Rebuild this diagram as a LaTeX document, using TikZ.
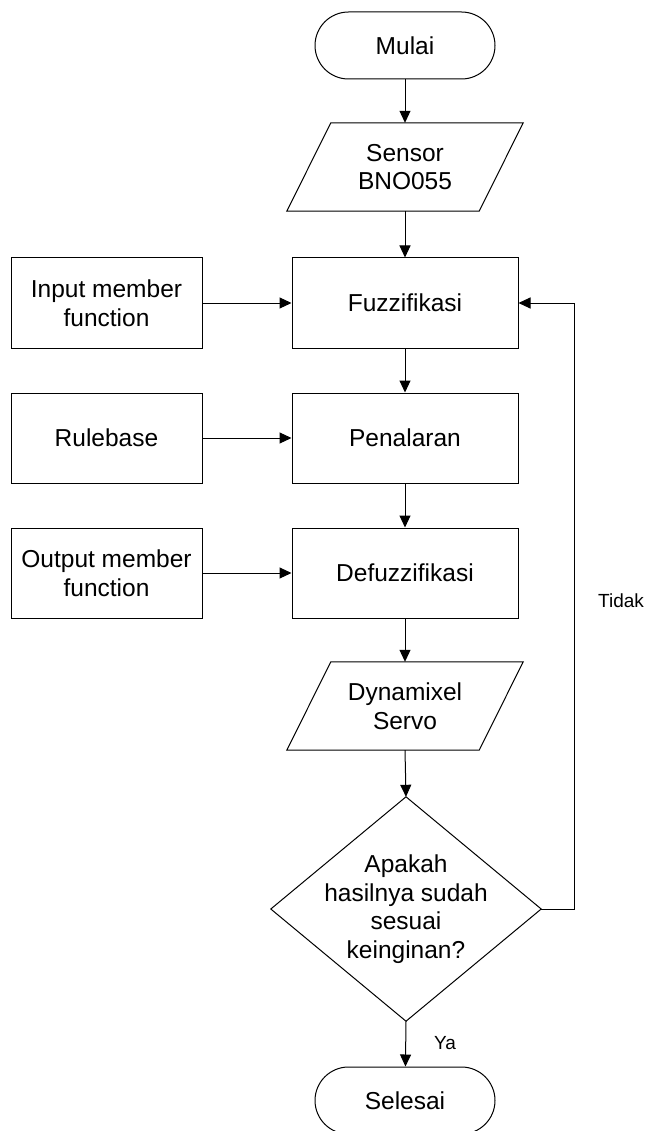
\documentclass[tikz,border=0pt]{standalone}
\usepackage{fontspec}
\setmainfont{Liberation Sans}
\usetikzlibrary{arrows.meta}
\begin{document}
\begin{tikzpicture}[x=1pt,y=-1pt,
  every node/.style={font=\fontsize{24.5}{28.5}\selectfont, align=center, inner sep=0pt},
  line/.style={line width=1pt, draw=black},
  arr/.style={line, -{Triangle[length=12pt,width=11pt]}},
  procbox/.style={line, draw, minimum width=226pt, minimum height=90pt},
  sidebox/.style={line, draw, minimum width=191pt, minimum height=90pt},
  terminal/.style={line, draw, rounded corners=33.5pt, minimum width=180pt, minimum height=67pt},
  iobox/.style={minimum width=192pt, minimum height=88pt},
  decbox/.style={minimum width=270pt, minimum height=224pt},
  small/.style={font=\fontsize{19}{22}\selectfont}
]
\useasboundingbox (0,0) rectangle (648,1131);
\clip (0,0) rectangle (648,1131);

% terminals
\node[terminal] (mulai) at (405,45.5) {Mulai};
\node[terminal] (selesai) at (405,1100.5) {Selesai};

% input / output parallelograms
\node[iobox] (sensor) at (405,167) {Sensor\\BNO055};
\draw[line] ([xshift=22pt]sensor.north west) -- ([xshift=22pt]sensor.north east)
  -- ([xshift=-22pt]sensor.south east) -- ([xshift=-22pt]sensor.south west) -- cycle;
\node[iobox] (servo) at (405,706) {Dynamixel\\Servo};
\draw[line] ([xshift=22pt]servo.north west) -- ([xshift=22pt]servo.north east)
  -- ([xshift=-22pt]servo.south east) -- ([xshift=-22pt]servo.south west) -- cycle;

% fuzzy stages
\node[procbox] (fuzz) at (405,303) {Fuzzifikasi};
\node[procbox] (pen) at (405,438) {Penalaran};
\node[procbox] (defuz) at (405,573) {Defuzzifikasi};

% knowledge inputs
\node[sidebox] (inmf) at (106.5,303) {Input member\\function};
\node[sidebox] (rule) at (106.5,438) {Rulebase};
\node[sidebox] (outmf) at (106.5,573) {Output member\\function};

% decision
\node[decbox] (dec) at (406,909) {Apakah\\hasilnya sudah\\sesuai\\keinginan?};
\draw[line] (dec.north) -- (dec.east) -- (dec.south) -- (dec.west) -- cycle;

% connectors
\draw[arr] (mulai) -- (sensor.north);
\draw[arr] (sensor.south) -- (fuzz);
\draw[arr] (inmf) -- (fuzz);
\draw[arr] (fuzz) -- (pen);
\draw[arr] (rule) -- (pen);
\draw[arr] (pen) -- (defuz);
\draw[arr] (outmf) -- (defuz);
\draw[arr] (defuz) -- (servo.north);
\draw[arr] (servo.south) -- (dec.north);
\draw[arr] (dec.south) -- (selesai);
\coordinate (loop) at (574,909);
\draw[arr] (dec.east) -- (loop) |- (fuzz.east);

% branch labels
\node[small, anchor=west] (tidak) at (598,601) {Tidak};
\node[small] (ya) at (445,1043) {Ya};
\end{tikzpicture}
\end{document}
